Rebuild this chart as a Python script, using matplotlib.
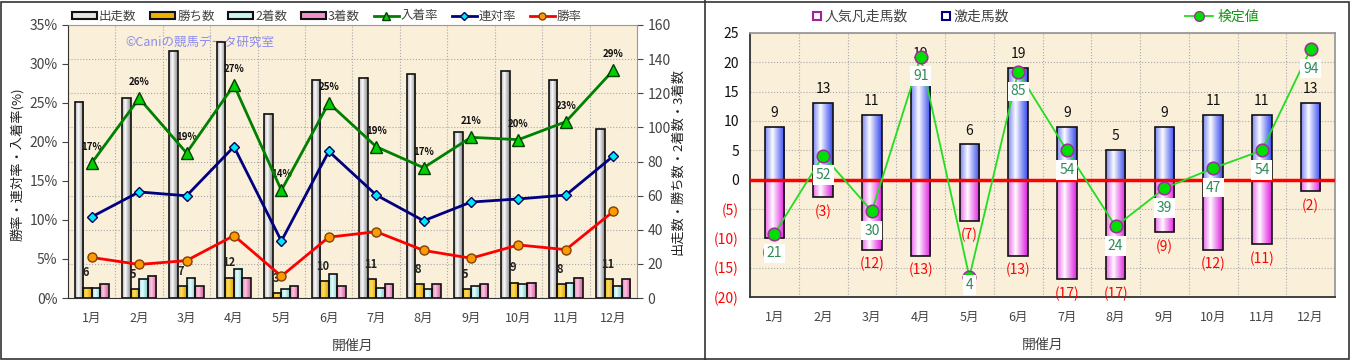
import numpy as np
import matplotlib
matplotlib.use('Agg')
import matplotlib.pyplot as plt
from matplotlib.patches import Rectangle, Patch
from matplotlib.lines import Line2D
from matplotlib.colors import to_rgb

plt.rcParams['font.family'] = ['Noto Sans CJK JP', 'DejaVu Sans']

months = ['1月', '2月', '3月', '4月', '5月', '6月', '7月', '8月', '9月', '10月', '11月', '12月']

# left chart: counts (right axis) and rates in % (left axis)
starts = [115, 117, 145, 150, 108, 128, 129, 131, 97, 133, 128, 99]
wins = [6, 5, 7, 12, 3, 10, 11, 8, 5, 9, 8, 11]
seconds = [6, 11, 12, 17, 5, 14, 6, 5, 7, 8, 9, 7]
thirds = [8, 13, 7, 12, 7, 7, 8, 8, 8, 9, 12, 11]
place_rate = [17.3, 25.6, 18.6, 27.3, 13.8, 25.0, 19.4, 16.7, 20.6, 20.3, 22.6, 29.2]
rentai_rate = [10.4, 13.6, 13.1, 19.4, 7.3, 18.8, 13.2, 9.9, 12.3, 12.7, 13.2, 18.2]
win_rate = [5.2, 4.3, 4.8, 8.0, 2.8, 7.8, 8.5, 6.1, 5.1, 6.8, 6.2, 11.1]

# right chart
gekisou = [9, 13, 11, 19, 6, 19, 9, 5, 9, 11, 11, 13]
bonsou = [10, 3, 12, 13, 7, 13, 17, 17, 9, 12, 11, 2]
kentei = [21, 52, 30, 91, 4, 85, 54, 24, 39, 47, 54, 94]

BG = '#FAEFD9'
TXT = '#444444'


def grad_bar(ax, x, w, y0, y1, base, light='white', z=2):
    # cylinder-like bar: horizontal gradient clipped to the bar box
    lo, hi = min(y0, y1), max(y0, y1)
    if hi - lo <= 0:
        return
    t = np.linspace(0, 1, 40)
    f = np.clip(np.abs(t - 0.38) / 0.62, 0, 1) ** 0.9
    b, l = np.array(to_rgb(base)), np.array(to_rgb(light))
    cols = l[None, :] * (1 - f[:, None]) + b[None, :] * f[:, None]
    ax.imshow(cols[None, :, :], extent=[x - w / 2, x + w / 2, lo, hi],
              aspect='auto', zorder=z, interpolation='bilinear')
    ax.add_patch(Rectangle((x - w / 2, lo), w, hi - lo, fill=False,
                           ec='#111111', lw=1.2, zorder=z + 0.1))


fig = plt.figure(figsize=(13.51, 3.6), dpi=100)
x = np.arange(12)

# ---------------- left chart ----------------
ax = fig.add_axes([68 / 1351, 1 - 298 / 360, (637 - 68) / 1351, (298 - 25) / 360])
ax.set_facecolor(BG)
bw = 0.18
bar_sets = [(starts, '#8a8a8a', 'white'), (wins, '#E0A000', '#FFE060'),
            (seconds, '#7CCACA', '#E8FFFF'), (thirds, '#D0609C', '#FFC8E4')]
for k, (vals, base, light) in enumerate(bar_sets):
    for i, v in enumerate(vals):
        grad_bar(ax, x[i] + (k - 1.5) * bw, bw, 0, v, base, light)
for i, v in enumerate(wins):
    ax.annotate(str(v), (x[i] - 0.5 * bw, v), xytext=(-1, 6), textcoords='offset points',
                ha='center', va='bottom', fontsize=8, fontweight='bold', color='#222222', zorder=6)
ax.set_xlim(-0.5, 11.5)
ax.set_ylim(0, 160)
ax.set_xticks(x)
ax.set_xticklabels(months)
ax.set_xticks(np.arange(-0.5, 12, 1), minor=True)
ax.tick_params(axis='x', which='both', length=0, colors=TXT, labelsize=9, pad=10)
ax.grid(axis='x', which='minor', color='#aaaaaa', ls=':', lw=0.8)
ax.grid(axis='y', which='major', color='#aaaaaa', ls=':', lw=0.8)
ax.set_axisbelow(True)
ax.set_xlabel('開催月', fontsize=10, color=TXT, labelpad=10)
for s in ['left', 'bottom']:
    ax.spines[s].set_color('#333333')
for s in ['top', 'right']:
    ax.spines[s].set_color('#999999')
ax.text(0.1, 0.935, '©Caniの競馬データ研究室', transform=ax.transAxes,
        fontsize=9, color='#8C8CF0', va='center', zorder=1)

ax2 = ax.twinx()
# counts on the right, rates on the left (twinx flips them, so set after)
ax.yaxis.tick_right()
ax.yaxis.set_label_position('right')
ax.set_yticks(np.arange(0, 161, 20))
ax.tick_params(axis='y', colors=TXT, labelsize=10, length=4)
ax.set_ylabel('出走数・勝ち数・2着数・3着数', fontsize=9.5, color='#222222')
ax.yaxis.set_label_coords(1.061, 0.5)
ax2.yaxis.tick_left()
ax2.yaxis.set_label_position('left')
ax2.patch.set_visible(False)
ax2.plot(x, place_rate, color='#008000', lw=2, marker='^', ms=8,
         mfc='#00D000', mec='#004000', zorder=5)
ax2.plot(x, rentai_rate, color='#000080', lw=2, marker='D', ms=5,
         mfc='#00E8F0', mec='#000060', zorder=5)
ax2.plot(x, win_rate, color='#FF0000', lw=2, marker='o', ms=6.5,
         mfc='#FF9900', mec='#804000', zorder=5)
for i, v in enumerate(place_rate):
    ax2.annotate(f'{v:.0f}%', (x[i], v), xytext=(0, 8), textcoords='offset points',
                 ha='center', va='bottom', fontsize=7, fontweight='bold', color='#111111')
ax2.set_ylim(0, 35)
ax2.set_yticks(np.arange(0, 36, 5))
ax2.set_yticklabels([f'{t}%' for t in range(0, 36, 5)])
ax2.tick_params(axis='y', colors=TXT, labelsize=10, length=4)
ax2.set_ylabel('勝率・連対率・入着率(%)', fontsize=9.5, color='#222222')
ax2.yaxis.set_label_coords(-0.077, 0.49)
for s in ax2.spines.values():
    s.set_visible(False)

handles = [Patch(fc='#E4E4E4', ec='#111111', lw=1.5), Patch(fc='#F0B000', ec='#111111', lw=1.5),
           Patch(fc='#C8F4F4', ec='#111111', lw=1.5), Patch(fc='#F090C8', ec='#111111', lw=1.5),
           Line2D([], [], color='#008000', lw=2, marker='^', ms=6, mfc='#00D000', mec='#004000'),
           Line2D([], [], color='#000080', lw=2, marker='D', ms=4, mfc='#00E8F0', mec='#000060'),
           Line2D([], [], color='#FF0000', lw=2, marker='o', ms=5, mfc='#FF9900', mec='#804000')]
labels = ['出走数', '勝ち数', '2着数', '3着数', '入着率', '連対率', '勝率']
fig.legend(handles, labels, loc='center', bbox_to_anchor=(327 / 1351, 1 - 16 / 360), ncol=7,
           frameon=False, fontsize=9, handlelength=2.0, handleheight=0.5,
           handletextpad=0.15, columnspacing=1.1, labelcolor=TXT)

# ---------------- right chart ----------------
bx = fig.add_axes([750 / 1351, 1 - 297 / 360, (1335 - 750) / 1351, (297 - 33) / 360])
bx.set_facecolor(BG)
w = 0.4
for i in range(12):
    grad_bar(bx, x[i], w, 0, gekisou[i], '#3A4CF0')
    grad_bar(bx, x[i], w, -bonsou[i], 0, '#E020E0')
    bx.annotate(str(gekisou[i]), (x[i], gekisou[i]), xytext=(0, 5), textcoords='offset points',
                ha='center', va='bottom', fontsize=10, color='#111111', zorder=6)
    bx.annotate(f'({bonsou[i]})', (x[i], -bonsou[i]), xytext=(0, -5), textcoords='offset points',
                ha='center', va='top', fontsize=10, color='#FF0000', zorder=6)
bx.axhline(0, color='#FF0000', lw=2.5, zorder=4)
bx.set_xlim(-0.5, 11.5)
bx.set_ylim(-20, 25)
yt = np.arange(-20, 26, 5)
bx.set_yticks(yt)
bx.set_yticklabels([str(t) if t >= 0 else f'({-t})' for t in yt])
for lab, t in zip(bx.get_yticklabels(), yt):
    lab.set_color('#FF0000' if t < 0 else '#111111')
bx.tick_params(axis='y', labelsize=10, length=0, pad=8)
bx.set_xticks(x)
bx.set_xticklabels(months)
bx.set_xticks(np.arange(-0.5, 12, 1), minor=True)
bx.tick_params(axis='x', which='both', length=0, colors=TXT, labelsize=9, pad=10)
bx.grid(axis='x', which='minor', color='#aaaaaa', ls=':', lw=0.8)
bx.grid(axis='y', which='major', color='#aaaaaa', ls=':', lw=0.8)
bx.set_axisbelow(True)
bx.set_xlabel('開催月', fontsize=10, color=TXT, labelpad=10)
for s in ['left', 'bottom']:
    bx.spines[s].set_color('#333333')
    bx.spines[s].set_linewidth(1.3)
for s in ['top', 'right']:
    bx.spines[s].set_color('#999999')
    bx.spines[s].set_linewidth(1.3)

bx2 = bx.twinx()
bx2.patch.set_visible(False)
bx2.set_ylim(-3.9, 100.4)
bx2.set_yticks([])
for s in bx2.spines.values():
    s.set_visible(False)
bx2.plot(x, kentei, color='#22DD22', lw=1.3, marker='o', ms=9,
         mfc='#00E000', mec='#993399', mew=1.2, zorder=5)
for i, v in enumerate(kentei):
    frac = (v + 3.9) / 104.3
    off = -14 if frac * 264 > 34 else -(frac * 264 - 12) / 1.389
    bx2.annotate(str(v), (x[i], v), xytext=(0, off), textcoords='offset points',
                 ha='center', va='center', fontsize=10, color='#2E8B57', zorder=7,
                 bbox=dict(boxstyle='square,pad=0.2', fc='white', ec='none'))

fig.legend([Line2D([], [], ls='none', marker='s', ms=6, mfc='white', mec='#A020A0', mew=1.5),
            Line2D([], [], ls='none', marker='s', ms=6, mfc='white', mec='#000080', mew=1.5)],
           ['人気凡走馬数', '激走馬数'], loc='center', bbox_to_anchor=(911 / 1351, 1 - 17 / 360),
           ncol=2, frameon=False, fontsize=10, handlelength=0.6, handletextpad=0.2,
           columnspacing=2.5, labelcolor=TXT)
fig.legend([Line2D([], [], color='#22DD22', lw=1.3, marker='o', ms=7, mfc='#00E000', mec='#993399')],
           ['検定値'], loc='center', bbox_to_anchor=(1222 / 1351, 1 - 17 / 360),
           frameon=False, fontsize=10, handlelength=2.0, handletextpad=0.3, labelcolor='#119911')

# panel frames
fig.add_artist(Rectangle((1 / 1351, 1 / 360), 1348 / 1351, 357 / 360, transform=fig.transFigure,
                         fill=False, ec='#333333', lw=1.2))
fig.add_artist(Line2D([705 / 1351, 705 / 1351], [0, 1], transform=fig.transFigure,
                      color='#333333', lw=1.2))

fig.savefig('out.png', dpi=100)
